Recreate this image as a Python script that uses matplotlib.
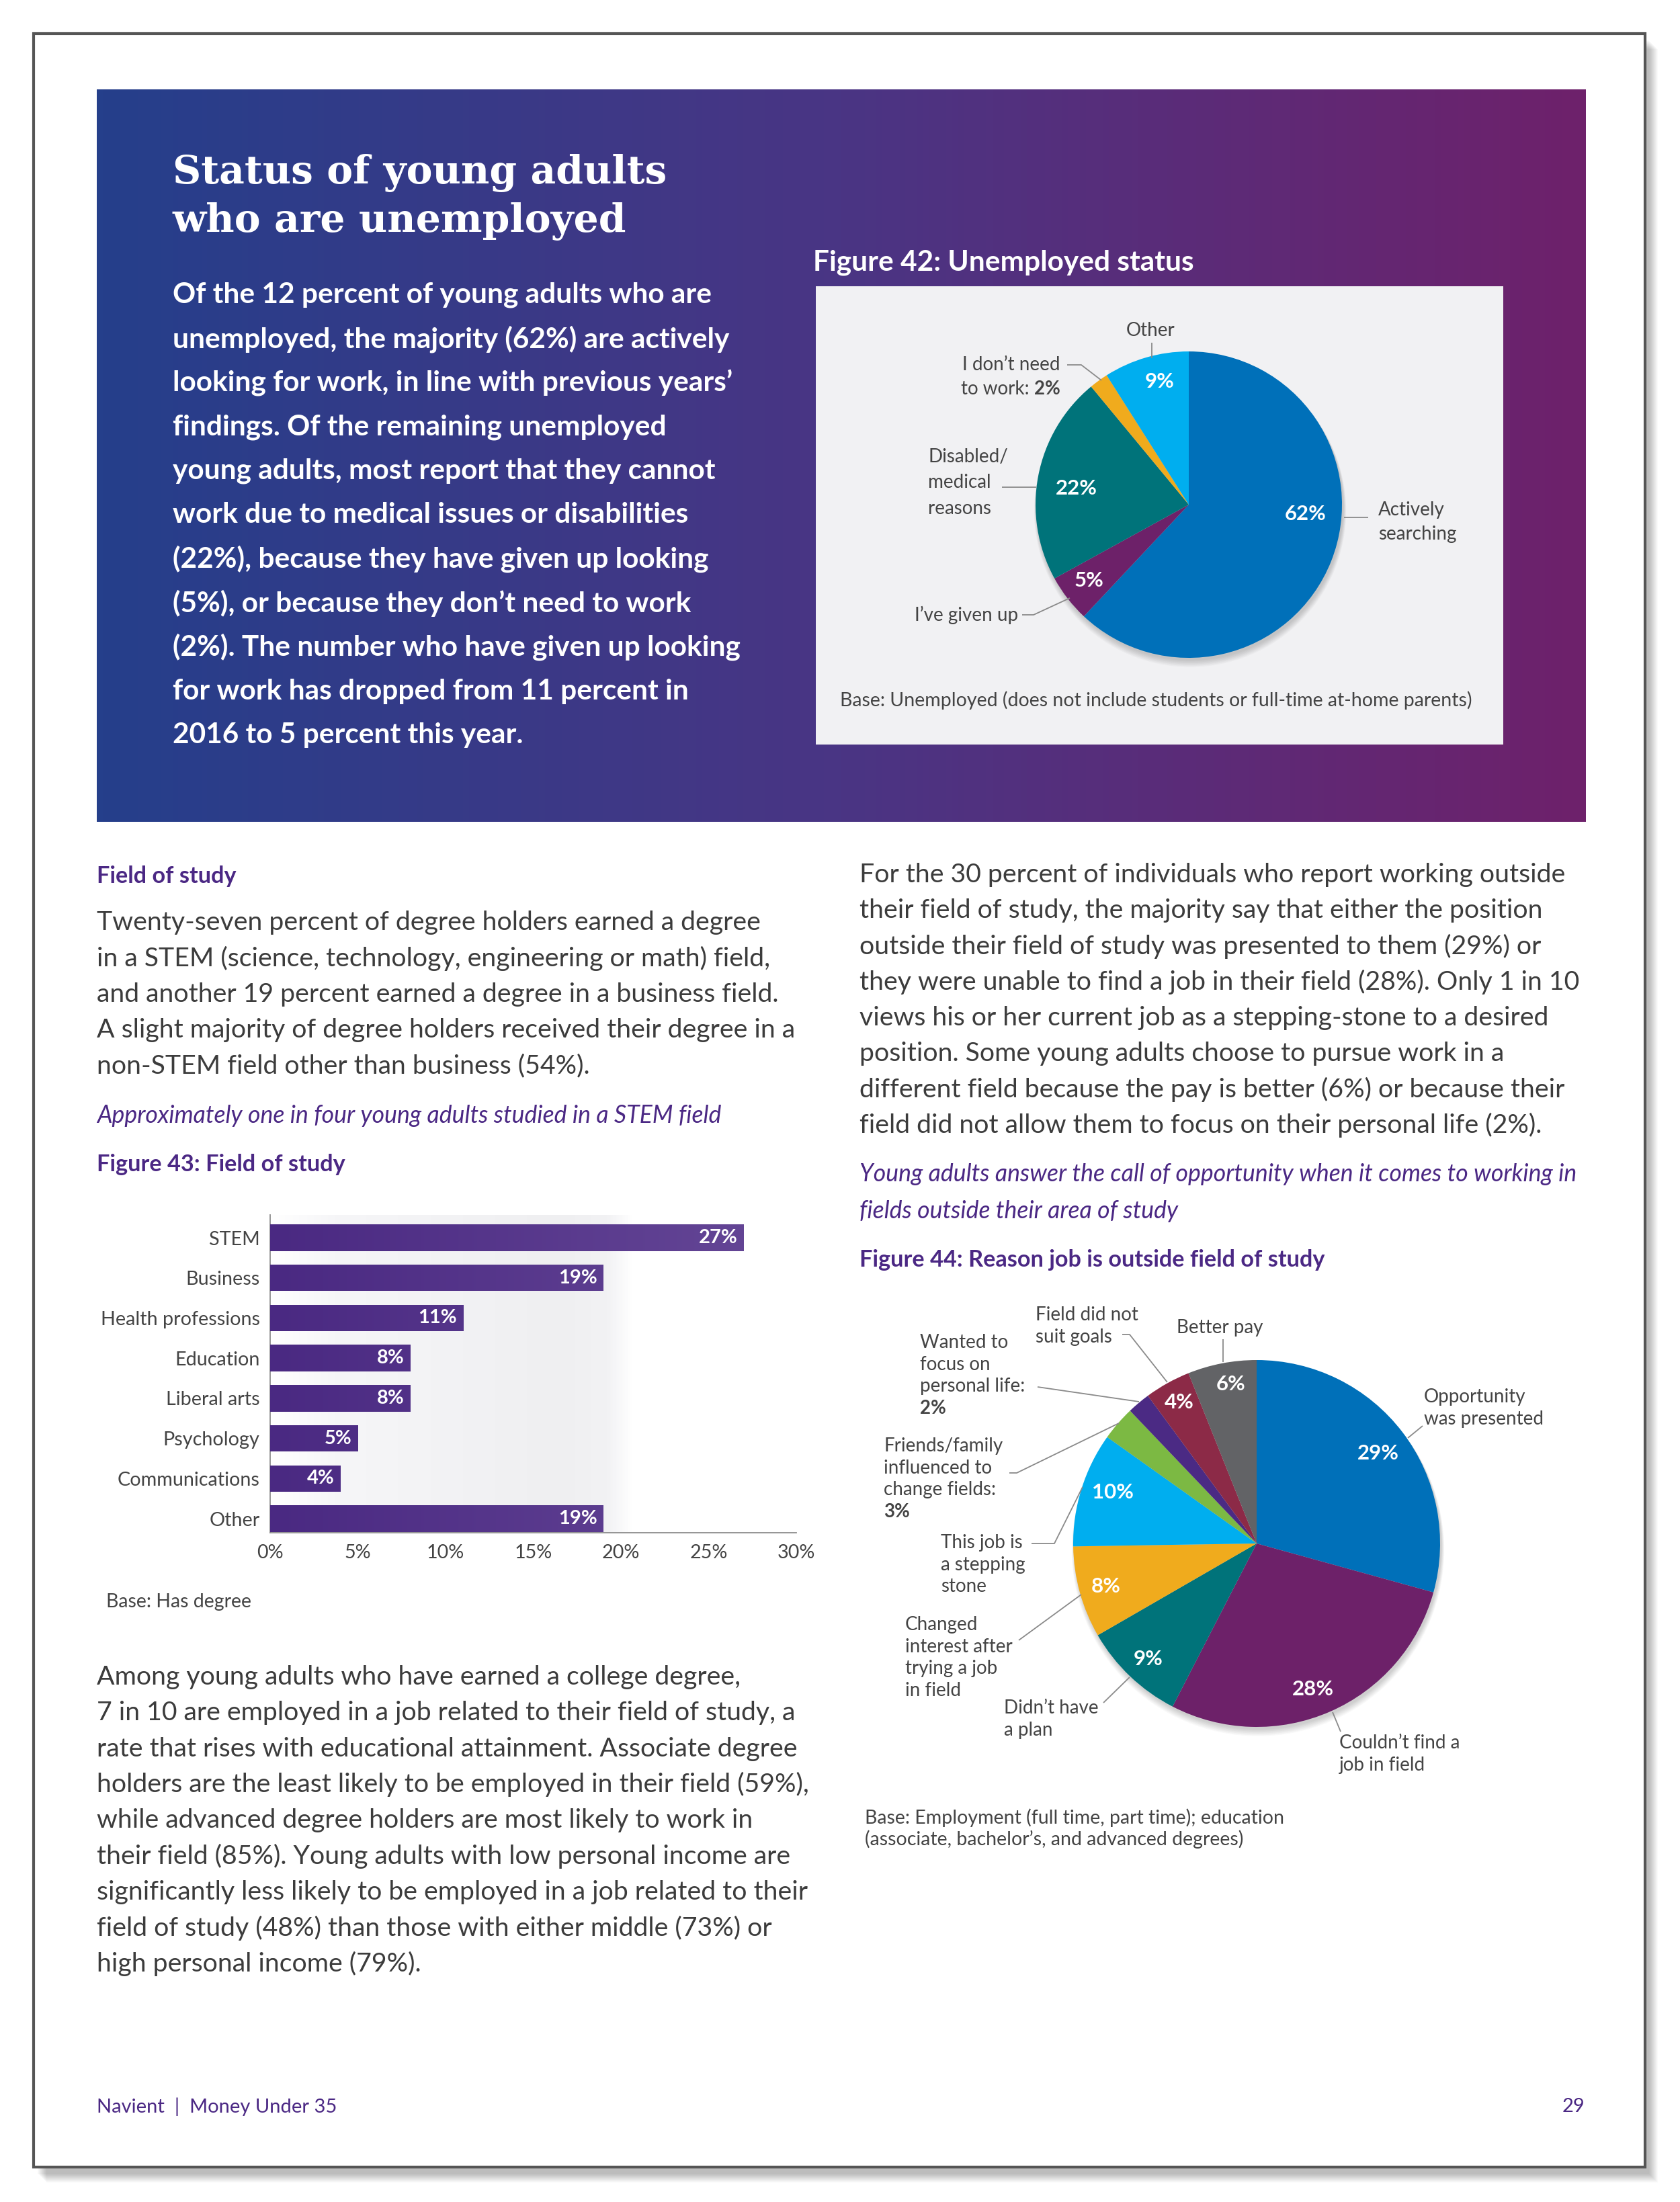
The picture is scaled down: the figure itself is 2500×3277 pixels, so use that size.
import numpy as np
import matplotlib
matplotlib.use("Agg")
import matplotlib.pyplot as plt
from matplotlib.patches import Rectangle, Circle
from matplotlib.colors import LinearSegmentedColormap

W, H = 2500, 3277
FONT = ["Lato", "DejaVu Sans"]
SERIF = ["DejaVu Serif"]
PURPLE = "#4b2884"
BODY = "#3c3c3c"
LABEL = "#444444"
LEAD = "#8a8a8a"

# ---- data ----
status_labels = ["Actively searching", "I've given up", "Disabled/medical reasons",
                 "I don't need to work", "Other"]
status_values = [62, 5, 22, 2, 9]
status_colors = ["#0070b9", "#6d2169", "#00737a", "#f0ab1d", "#00aeef"]

field_labels = ["STEM", "Business", "Health professions", "Education", "Liberal arts",
                "Psychology", "Communications", "Other"]
field_values = [27, 19, 11, 8, 8, 5, 4, 19]
field_ticks = [0, 5, 10, 15, 20, 25, 30]

reason_labels = ["Opportunity was presented", "Couldn't find a job in field", "Didn't have a plan",
                 "Changed interest after trying a job in field", "This job is a stepping stone",
                 "Friends/family influenced to change fields", "Wanted to focus on personal life",
                 "Field did not suit goals", "Better pay"]
reason_values = [29, 28, 9, 8, 10, 3, 2, 4, 6]
reason_colors = ["#0070b9", "#6d2169", "#00737a", "#f0ab1d", "#00aeef",
                 "#7cb943", "#4b2a84", "#8c2a47", "#626366"]

banner_lines = [
    "Of the 12 percent of young adults who are",
    "unemployed, the majority (62%) are actively",
    "looking for work, in line with previous years\u2019",
    "findings. Of the remaining unemployed",
    "young adults, most report that they cannot",
    "work due to medical issues or disabilities",
    "(22%), because they have given up looking",
    "(5%), or because they don\u2019t need to work",
    "(2%). The number who have given up looking",
    "for work has dropped from 11 percent in",
    "2016 to 5 percent this year.",
]
left_top_lines = [
    "Twenty-seven percent of degree holders earned a degree",
    "in a STEM (science, technology, engineering or math) field,",
    "and another 19 percent earned a degree in a business field.",
    "A slight majority of degree holders received their degree in a",
    "non-STEM field other than business (54%).",
]
left_bottom_lines = [
    "Among young adults who have earned a college degree,",
    "7 in 10 are employed in a job related to their field of study, a",
    "rate that rises with educational attainment. Associate degree",
    "holders are the least likely to be employed in their field (59%),",
    "while advanced degree holders are most likely to work in",
    "their field (85%). Young adults with low personal income are",
    "significantly less likely to be employed in a job related to their",
    "field of study (48%) than those with either middle (73%) or",
    "high personal income (79%).",
]
right_lines = [
    "For the 30 percent of individuals who report working outside",
    "their field of study, the majority say that either the position",
    "outside their field of study was presented to them (29%) or",
    "they were unable to find a job in their field (28%). Only 1 in 10",
    "views his or her current job as a stepping-stone to a desired",
    "position. Some young adults choose to pursue work in a",
    "different field because the pay is better (6%) or because their",
    "field did not allow them to focus on their personal life (2%).",
]

BODY_FS = 28.3
LAB_FS = 20
BASE_FS = 20.5
HEAD_FS = 24.7
ITAL_FS = 25.7

fig = plt.figure(figsize=(25, 32.77), dpi=100)
fig.patch.set_facecolor("white")
ax = fig.add_axes([0, 0, 1, 1])
ax.set_xlim(0, W)
ax.set_ylim(H, 0)
ax.axis("off")
renderer = fig.canvas.get_renderer()


def rich(x, y, parts, size, color, ha="left"):
    objs = [ax.text(0, y, s, fontsize=size, fontweight=w, color=color, va="center",
                    ha="left", family=FONT, zorder=6) for s, w in parts]
    widths = [o.get_window_extent(renderer).width for o in objs]
    start = x - sum(widths) if ha == "right" else x
    for o, wd in zip(objs, widths):
        o.set_x(start)
        start += wd


def lead(pts):
    xs, ys = zip(*pts)
    ax.plot(xs, ys, color=LEAD, lw=1.3, zorder=5, solid_capstyle="butt")


# page shadow + border
for k in range(14):
    ax.add_patch(Rectangle((50 + 6 + k, 50 + 10 + k), 2398, 3175, color="black",
                           alpha=0.018, lw=0, zorder=0))
ax.add_patch(Rectangle((50, 50), 2398, 3175, facecolor="white", edgecolor="#555555",
                       lw=3, zorder=1))

# banner gradient
bcmap = LinearSegmentedColormap.from_list("banner", ["#253f8b", "#4a3584", "#6e216b"])
grad = np.linspace(0, 1, 512).reshape(1, -1)
ax.imshow(grad, extent=[144, 2360, 1223, 134], cmap=bcmap, aspect="auto", zorder=2)

ax.text(257, 258, "Status of young adults", fontsize=42, fontweight="bold", family=SERIF,
        color="white", va="center", zorder=3)
ax.text(257, 330, "who are unemployed", fontsize=42, fontweight="bold", family=SERIF,
        color="white", va="center", zorder=3)
for i, line in enumerate(banner_lines):
    ax.text(257, 439 + i * 65.5, line, fontsize=30.5, fontweight="bold", family=FONT,
            color="white", va="center", zorder=3)

ax.text(1210, 391, "Figure 42: Unemployed status", fontsize=30.5, fontweight="bold",
        family=FONT, color="white", va="center", zorder=3)
ax.add_patch(Rectangle((1214, 426), 1023, 682, color="#f1f1f3", lw=0, zorder=3))

# pie 1
c1, r1 = (1769, 751), 228
for k in range(8):
    ax.add_patch(Circle((c1[0] + 2, c1[1] + 4 + k * 0.8), r1 + k * 0.6, color="black",
                        alpha=0.025, lw=0, zorder=3.5))
wedges, _ = ax.pie(status_values, colors=status_colors, startangle=-90, counterclock=True,
                   center=c1, radius=r1, frame=True, wedgeprops=dict(linewidth=0))
for w in wedges:
    w.set_zorder(4)
pct1 = [(1943, 765), (1621, 864), (1602, 727), None, (1726, 568)]
for v, pos in zip(status_values, pct1):
    if pos:
        ax.text(pos[0], pos[1], f"{v}%", fontsize=22.5, fontweight="bold", color="white",
                family=FONT, ha="center", va="center", zorder=6)

ax.text(1712, 492, "Other", fontsize=LAB_FS, color=LABEL, family=FONT, ha="center",
        va="center", zorder=6)
lead([(1714, 510), (1714, 533)])
rich(1578, 543, [("I don\u2019t need", "normal")], LAB_FS, LABEL, ha="right")
rich(1578, 579, [("to work: ", "normal"), (f"{status_values[3]}%", "bold")], LAB_FS, LABEL,
     ha="right")
lead([(1588, 543), (1609, 543), (1639, 566)])
for i, s in enumerate(["Disabled/", "medical", "reasons"]):
    ax.text(1381, 680 + i * 38.5, s, fontsize=LAB_FS, color=LABEL, family=FONT,
            va="center", zorder=6)
lead([(1491, 725), (1542, 725)])
ax.text(1515, 915, "I\u2019ve given up", fontsize=LAB_FS, color=LABEL, family=FONT, ha="right",
        va="center", zorder=6)
lead([(1521, 915), (1538, 915), (1592, 890)])
for i, s in enumerate(["Actively", "searching"]):
    ax.text(2051, 759 + i * 36, s, fontsize=LAB_FS, color=LABEL, family=FONT, va="center",
            zorder=6)
lead([(2000, 770), (2036, 770)])
ax.text(1250, 1042, "Base: Unemployed (does not include students or full-time at-home parents)",
        fontsize=BASE_FS, color=LABEL, family=FONT, va="center", zorder=6)

# left column text
ax.text(144, 1304, "Field of study", fontsize=HEAD_FS, fontweight="bold", color=PURPLE,
        family=FONT, va="center", zorder=6)
for i, line in enumerate(left_top_lines):
    ax.text(144, 1373 + i * 53.3, line, fontsize=BODY_FS, color=BODY, family=FONT,
            va="center", zorder=6)
ax.text(144, 1660, "Approximately one in four young adults studied in a STEM field",
        fontsize=ITAL_FS, style="italic", color=PURPLE, family=FONT, va="center", zorder=6)
ax.text(144, 1733, "Figure 43: Field of study", fontsize=HEAD_FS, fontweight="bold",
        color=PURPLE, family=FONT, va="center", zorder=6)
ax.text(158, 2384, "Base: Has degree", fontsize=BASE_FS, color=LABEL, family=FONT,
        va="center", zorder=6)
for i, line in enumerate(left_bottom_lines):
    ax.text(144, 2496 + i * 53.3, line, fontsize=BODY_FS, color=BODY, family=FONT,
            va="center", zorder=6)

# right column text
for i, line in enumerate(right_lines):
    ax.text(1279, 1302 + i * 53.2, line, fontsize=BODY_FS, color=BODY, family=FONT,
            va="center", zorder=6)
ax.text(1279, 1747, "Young adults answer the call of opportunity when it comes to working in",
        fontsize=ITAL_FS, style="italic", color=PURPLE, family=FONT, va="center", zorder=6)
ax.text(1279, 1802, "fields outside their area of study",
        fontsize=ITAL_FS, style="italic", color=PURPLE, family=FONT, va="center", zorder=6)
ax.text(1279, 1875, "Figure 44: Reason job is outside field of study", fontsize=HEAD_FS,
        fontweight="bold", color=PURPLE, family=FONT, va="center", zorder=6)

# pie 2
c2, r2 = (1870, 2297), 273
for k in range(8):
    ax.add_patch(Circle((c2[0] + 2, c2[1] + 4 + k * 0.8), r2 + k * 0.6, color="black",
                        alpha=0.025, lw=0, zorder=3.5))
wedges2, _ = ax.pie(reason_values, colors=reason_colors, startangle=-90, counterclock=True,
                    center=c2, radius=r2, frame=True, wedgeprops=dict(linewidth=0))
for w in wedges2:
    w.set_zorder(4)
pct2 = [(2051, 2163), (1954, 2514), (1709, 2469), (1646, 2361), (1656, 2221), None, None,
        (1755, 2087), (1832, 2060)]
for v, pos in zip(reason_values, pct2):
    if pos:
        ax.text(pos[0], pos[1], f"{v}%", fontsize=22.5, fontweight="bold", color="white",
                family=FONT, ha="center", va="center", zorder=6)


def block(x, y0, lines, step=32.5, bold_last=False):
    for i, s in enumerate(lines):
        w = "bold" if (bold_last and i == len(lines) - 1) else "normal"
        ax.text(x, y0 + i * step, s, fontsize=LAB_FS, fontweight=w, color=LABEL, family=FONT,
                va="center", zorder=6)


block(2119, 2079, ["Opportunity", "was presented"])
lead([(2117, 2122), (2095, 2140)])
block(1993, 2594, ["Couldn\u2019t find a", "job in field"])
lead([(1995, 2577), (1983, 2548)])
block(1494, 2542, ["Didn\u2019t have", "a plan"])
lead([(1642, 2534), (1681, 2496)])
block(1347, 2418, ["Changed", "interest after", "trying a job", "in field"])
lead([(1516, 2441), (1609, 2373)])
block(1400, 2296, ["This job is", "a stepping", "stone"])
lead([(1535, 2297), (1569, 2297), (1611, 2213)])
block(1315, 2152, ["Friends/family", "influenced to", "change fields:", f"{reason_values[5]}%"],
      bold_last=True)
lead([(1502, 2192), (1513, 2192), (1665, 2118)])
block(1369, 1998, ["Wanted to", "focus on", "personal life:", f"{reason_values[6]}%"],
      bold_last=True)
lead([(1544, 2064), (1695, 2086)])
block(1541, 1957, ["Field did not", "suit goals"])
lead([(1670, 1986), (1681, 1986), (1737, 2057)])
block(1751, 1976, ["Better pay"])
lead([(1820, 1993), (1820, 2027)])
ax.text(1287, 2705, "Base: Employment (full time, part time); education", fontsize=BASE_FS,
        color=LABEL, family=FONT, va="center", zorder=6)
ax.text(1287, 2737, "(associate, bachelor\u2019s, and advanced degrees)", fontsize=BASE_FS,
        color=LABEL, family=FONT, va="center", zorder=6)

# footer
ax.text(144, 3135, "Navient  |  Money Under 35", fontsize=21, color=PURPLE, family=FONT,
        va="center", zorder=6)
ax.text(2358, 3135, "29", fontsize=21, color=PURPLE, family=FONT, ha="right",
        va="center", zorder=6)

ax.set_xlim(0, W)
ax.set_ylim(H, 0)
ax.set_aspect("auto")

# bar chart (Figure 43)
bx0, bx1, by0, by1 = 402, 1185, 1808, 2281
bax = fig.add_axes([bx0 / W, 1 - by1 / H, (bx1 - bx0) / W, (by1 - by0) / H])
bax.patch.set_alpha(0)
ylo, yhi = 7.35, -0.57
bgc = LinearSegmentedColormap.from_list("bg", [(0, "#ffffff"), (0.12, "#f6f6f8"),
                                               (0.55, "#efeff1"), (0.64, "#f2f2f4"),
                                               (0.69, "#ffffff"), (1, "#ffffff")])
bax.imshow(np.linspace(0, 1, 600).reshape(1, -1), extent=[0, 30, ylo, yhi], cmap=bgc,
           aspect="auto", zorder=0)
bars = bax.barh(range(len(field_values)), field_values, height=0.66, color="#4f2d86",
                lw=0, zorder=2)
barc = LinearSegmentedColormap.from_list("bar", ["#4a2982", "#664897"])
for b in bars:
    im = bax.imshow(np.linspace(0, 1, 300).reshape(1, -1), extent=[0, 30, ylo, yhi],
                    cmap=barc, aspect="auto", zorder=3)
    im.set_clip_path(b)
for i, v in enumerate(field_values):
    bax.text(v - 0.35, i, f"{v}%", ha="right", va="center", color="white",
             fontweight="bold", fontsize=21, family=FONT, zorder=4)
bax.set_xlim(0, 30)
bax.set_ylim(ylo, yhi)
bax.set_yticks(range(len(field_labels)))
bax.set_yticklabels(field_labels, fontsize=20.7, color=LABEL, family=FONT)
bax.set_xticks(field_ticks)
bax.set_xticklabels([f"{t}%" for t in field_ticks], fontsize=20.7, color=LABEL, family=FONT)
bax.tick_params(length=0)
bax.tick_params(axis="y", pad=11)
bax.tick_params(axis="x", pad=12)
for s in ["top", "right"]:
    bax.spines[s].set_visible(False)
for s in ["left", "bottom"]:
    bax.spines[s].set_color("#8c8c8c")
    bax.spines[s].set_linewidth(1.3)

fig.savefig("out.png", dpi=100)
